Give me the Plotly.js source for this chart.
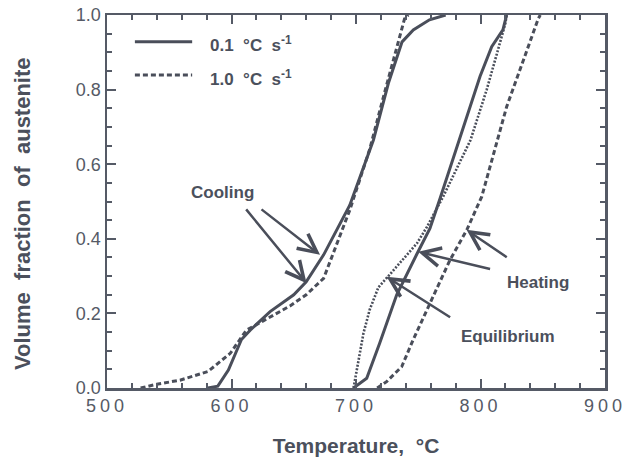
<!DOCTYPE html>
<html>
<head>
<meta charset="utf-8">
<script src="https://cdn.plot.ly/plotly-3.0.1.min.js"></script>
<style>
html,body{margin:0;padding:0;background:#fff;}
#chart{width:632px;height:460px;}
#chart .xtick text{letter-spacing:4px;}
</style>
</head>
<body>
<div id="chart"></div>
<script>
// Cooling, 0.1 °C/s (solid)
var coolSlowT = [581, 589, 597.5, 608, 615, 631, 650, 660, 674, 695, 714, 726, 737, 746, 759, 772];
var coolSlowF = [0, 0.005, 0.048, 0.13, 0.155, 0.205, 0.25, 0.285, 0.357, 0.49, 0.665, 0.817, 0.928, 0.96, 0.987, 1.0];
// Cooling, 1.0 °C/s (dashed)
var coolFastT = [527, 540, 558.6, 581, 599, 612, 625.5, 647, 660, 674, 695, 711, 722, 733, 739, 742];
var coolFastF = [0, 0.01, 0.021, 0.044, 0.093, 0.155, 0.18, 0.22, 0.25, 0.294, 0.477, 0.64, 0.78, 0.915, 0.99, 1.0];
// Heating, 0.1 °C/s (solid)
var heatSlowT = [698, 708.6, 719, 732.7, 749, 759.4, 767.5, 786, 799.6, 809, 818, 821];
var heatSlowF = [0, 0.026, 0.12, 0.25, 0.36, 0.428, 0.508, 0.70, 0.835, 0.915, 0.96, 1.0];
// Heating, 1.0 °C/s (dashed)
var heatFastT = [717, 724.6, 736.7, 746, 759.4, 775.5, 789, 801, 821, 837, 846.4, 848];
var heatFastF = [0, 0.017, 0.057, 0.13, 0.227, 0.343, 0.424, 0.513, 0.754, 0.906, 0.99, 1.0];
// Equilibrium (dotted)
var eqT = [698, 706, 711, 718, 726, 735, 749, 757, 770, 792, 805, 814, 820, 821];
var eqF = [0, 0.147, 0.21, 0.27, 0.30, 0.334, 0.388, 0.432, 0.513, 0.665, 0.80, 0.906, 0.978, 1.0];

var legendNames = ["0.1  °C  s<sup>-1</sup>", "1.0  °C  s<sup>-1</sup>"];
var curveLabels = ["Cooling", "Heating", "Equilibrium"];
var xTicks = [500, 600, 700, 800, 900];
var yTicks = [0, 0.2, 0.4, 0.6, 0.8, 1.0];

var ink = "#4a4e5a";
var axisInk = "#555a66";
var solidLine = {color: ink, width: 3};
var dashLine = {color: ink, width: 3, dash: "5px,3px"};
var dotLine = {color: ink, width: 2.6, dash: "2px,1.6px"};

var traces = [
  {x: coolSlowT, y: coolSlowF, mode: "lines", name: legendNames[0], showlegend: false, line: solidLine},
  {x: coolFastT, y: coolFastF, mode: "lines", name: legendNames[1], showlegend: false, line: dashLine},
  {x: heatSlowT, y: heatSlowF, mode: "lines", name: legendNames[0], showlegend: false, line: solidLine},
  {x: heatFastT, y: heatFastF, mode: "lines", name: legendNames[1], showlegend: false, line: dashLine},
  {x: eqT, y: eqF, mode: "lines", name: curveLabels[2], showlegend: false, line: dotLine}
];

function arrow(tx, ty, hx, hy) {
  return {x: hx, y: hy, ax: tx, ay: ty, xref: "x", yref: "y", axref: "x", ayref: "y",
          text: "", showarrow: true, arrowhead: 5, arrowsize: 1.45, arrowwidth: 2.5, arrowcolor: ink};
}
var txtFont = {family: "Liberation Sans, Arial, sans-serif", size: 17, color: "#4b505c", weight: "bold"};

var annotations = [
  {x: 593, y: 0.523, xref: "x", yref: "y", text: "<b>" + curveLabels[0] + "</b>", showarrow: false, font: txtFont},
  {x: 846, y: 0.284, xref: "x", yref: "y", text: "<b>" + curveLabels[1] + "</b>", showarrow: false, font: txtFont},
  {x: 822, y: 0.137, xref: "x", yref: "y", text: "<b>" + curveLabels[2] + "</b>", showarrow: false, font: txtFont},
  arrow(610.8, 0.483, 660.3, 0.281),
  arrow(622.9, 0.482, 671.1, 0.357),
  arrow(822.3, 0.348, 788.8, 0.424),
  arrow(808.9, 0.318, 750.0, 0.365),
  arrow(776.8, 0.187, 724.6, 0.298),
  // legend labels
  {x: 0.203, y: 0.921, xref: "paper", yref: "paper", xanchor: "left", yanchor: "middle",
   text: "<b>" + legendNames[0] + "</b>", showarrow: false, font: txtFont},
  {x: 0.203, y: 0.830, xref: "paper", yref: "paper", xanchor: "left", yanchor: "middle",
   text: "<b>" + legendNames[1] + "</b>", showarrow: false, font: txtFont}
];

// legend line samples
var shapes = [
  {type: "line", xref: "paper", yref: "paper", x0: 0.056, x1: 0.171, y0: 0.928, y1: 0.928, line: solidLine},
  {type: "line", xref: "paper", yref: "paper", x0: 0.056, x1: 0.171, y0: 0.839, y1: 0.839, line: dashLine}
];

var layout = {
  width: 632, height: 460,
  margin: {l: 107, r: 27, t: 15, b: 72},
  paper_bgcolor: "#ffffff", plot_bgcolor: "#ffffff",
  font: {family: "Liberation Sans, Arial, sans-serif", color: axisInk},
  showlegend: false,
  xaxis: {
    range: [500, 900], tickvals: xTicks, ticktext: xTicks.map(String),
    showgrid: false, zeroline: false, showline: true, linecolor: axisInk, linewidth: 2.5, mirror: "allticks",
    ticks: "inside", ticklen: 9, tickwidth: 2, tickcolor: axisInk,
    tickfont: {size: 18, color: axisInk},
    minor: {dtick: 20, ticks: "inside", ticklen: 5, tickwidth: 2, tickcolor: axisInk, showgrid: false},
    title: {text: "<b>Temperature,  °C</b>", font: {size: 21, color: "#4b505c"}, standoff: 23}
  },
  yaxis: {
    range: [0, 1], tickvals: yTicks, ticktext: yTicks.map(function(v){return v.toFixed(1);}),
    showgrid: false, zeroline: false, showline: true, linecolor: axisInk, linewidth: 2.5, mirror: "allticks",
    ticks: "inside", ticklen: 9, tickwidth: 2, tickcolor: axisInk,
    tickfont: {size: 18, color: axisInk},
    minor: {dtick: 0.05, ticks: "inside", ticklen: 5, tickwidth: 2, tickcolor: axisInk, showgrid: false},
    title: {text: "<b>Volume  fraction  of  austenite</b>&nbsp;&nbsp;&nbsp;&nbsp;", font: {size: 22, color: "#4b505c"}, standoff: 39}
  },
  annotations: annotations,
  shapes: shapes
};

Plotly.newPlot("chart", traces, layout, {displayModeBar: false, staticPlot: true});
</script>
</body>
</html>
